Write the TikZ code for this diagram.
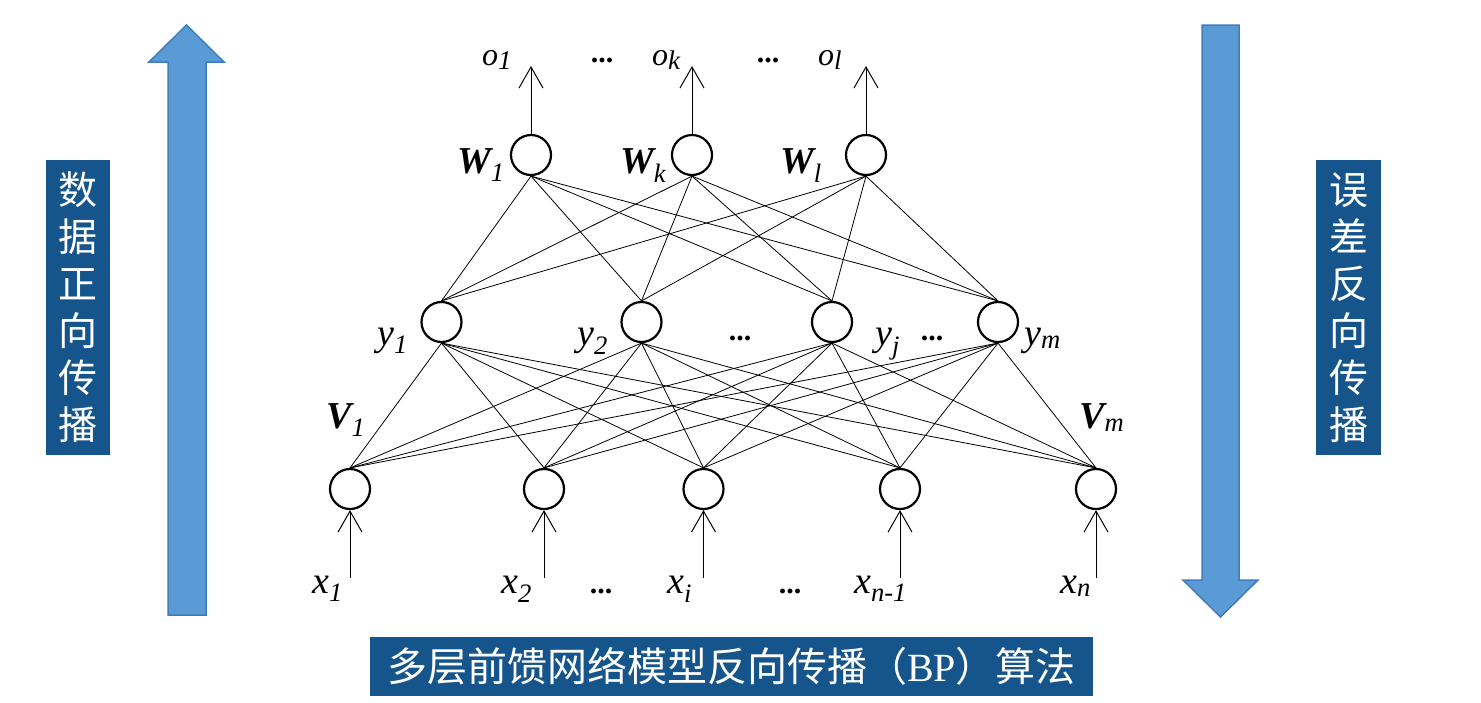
\documentclass[tikz,border=0pt]{standalone}
\usepackage{fontspec}
\setmainfont{Liberation Serif}
\newfontfamily\cjk{Noto Sans CJK SC}
\usetikzlibrary{arrows.meta}
\definecolor{bpblue}{HTML}{15558C}
\definecolor{bpfill}{HTML}{5B9BD5}
\definecolor{bpedge}{HTML}{3F7DBF}
\newcommand{\bpsub}[1]{\textsubscript{\mdseries #1}}
\newcommand{\bposub}[1]{\raisebox{-4pt}{\fontsize{27}{28}\selectfont #1}}
\tikzset{
  >={Straight Barb[length=21pt,width=24pt]},
  bpunit/.style={circle, draw=black, line width=2.2pt, minimum size=40pt, inner sep=0pt},
  bpwire/.style={black, line width=0.8pt},
  bpio/.style={->, black, line width=1pt},
  bpvar/.style={anchor=base west, inner sep=0pt, font=\fontsize{38}{40}\selectfont\itshape},
  bpwt/.style={anchor=base west, inner sep=0pt, font=\fontsize{38}{40}\selectfont\bfseries\itshape},
  bpout/.style={anchor=base west, inner sep=0pt, font=\fontsize{32}{34}\selectfont\itshape},
  bpdots/.style={anchor=base, inner sep=0pt, font=\fontsize{30}{32}\selectfont\bfseries},
  bpbox/.style={fill=bpblue, text=white, inner sep=0pt, align=center,
                font=\cjk\fontsize{39}{47}\selectfont},
  bparrow/.style={fill=bpfill, draw=bpedge, line width=1.5pt},
}
\begin{document}
\begin{tikzpicture}[x=1pt, y=-1pt]

  \useasboundingbox (0,0) rectangle (1481,702);
  \fill[white] (0,0) rectangle (1481,702);

  % big arrows
  \draw[bparrow] (168,615) -- (168,62) -- (149,62) -- (186.5,25) -- (224,62)
                 -- (206,62) -- (206,615) -- cycle;
  \draw[bparrow] (1202,25) -- (1202,580) -- (1183,580) -- (1220.5,617) -- (1258,580)
                 -- (1239,580) -- (1239,25) -- cycle;

  % side and bottom boxes
  \node[bpbox, minimum width=64pt, minimum height=295pt] (fwd) at (78,307.5)
       {数\\据\\正\\向\\传\\播};
  \node[bpbox, minimum width=65pt, minimum height=295pt] (bwd) at (1348.5,307.5)
       {误\\差\\反\\向\\传\\播};
  \node[bpbox, minimum width=723pt, minimum height=59pt,
        font=\cjk\fontsize{40}{44}\selectfont] (title) at (731.5,666.5)
       {多层前馈网络模型反向传播（{\rmfamily BP}）算法};

  % neurons
  \foreach \n/\px in {1/350, 2/544, 3/703.5, 4/900, 5/1096}
    \node[bpunit] (x\n) at (\px,489) {};
  \foreach \n/\px in {1/441.5, 2/641.5, 3/832, 4/998}
    \node[bpunit] (h\n) at (\px,322) {};
  \foreach \n/\px in {1/531, 2/692, 3/866}
    \node[bpunit] (w\n) at (\px,155) {};

  % wires
  \foreach \i in {1,...,5}
    \foreach \j in {1,...,4}
      \draw[bpwire] (x\i.north) -- (h\j.south);
  \foreach \j in {1,...,4}
    \foreach \k in {1,2,3}
      \draw[bpwire] (h\j.north) -- (w\k.south);

  % inputs and outputs
  \foreach \n/\px in {1/350, 2/544, 3/703.5, 4/900, 5/1096} {
    \coordinate (xin\n) at (\px,578);
    \draw[bpio] (xin\n) -- (x\n.south);
  }
  \foreach \n/\px in {1/531, 2/692, 3/866} {
    \coordinate (oout\n) at (\px,66);
    \draw[bpio] (w\n.north) -- (oout\n);
  }

  % labels
  \node[bpvar] (lx1) at (312,593) {x\textsubscript{1}};
  \node[bpvar] (lx2) at (501,593) {x\textsubscript{2}};
  \node[bpvar] (lxi) at (667,593) {x\textsubscript{i}};
  \node[bpvar] (lxm) at (854,593) {x\textsubscript{n-1}};
  \node[bpvar] (lxn) at (1060,593) {x\textsubscript{n}};
  \node[bpdots] (dx1) at (601,593) {...};
  \node[bpdots] (dx2) at (790,593) {...};

  \node[bpvar] (ly1) at (377,345) {y\textsubscript{1}};
  \node[bpvar] (ly2) at (577,345) {y\textsubscript{2}};
  \node[bpvar] (lyj) at (875,345) {y\textsubscript{j}};
  \node[bpvar] (lym) at (1024,345) {y\textsubscript{m}};
  \node[bpdots] (dy1) at (740,340) {...};
  \node[bpdots] (dy2) at (932,340) {...};

  \node[bpwt] (lv1) at (326,428) {V\bpsub{1}};
  \node[bpwt] (lvm) at (1079,428) {V\bpsub{m}};

  \node[bpwt] (lw1) at (457,173) {W\bpsub{1}};
  \node[bpwt] (lwk) at (620,173) {W\bpsub{k}};
  \node[bpwt] (lwl) at (780,173) {W\bpsub{l}};

  \node[bpout] (lo1) at (482,65) {o\bposub{1}};
  \node[bpout] (lok) at (652,65) {o\bposub{k}};
  \node[bpout] (lol) at (818,65) {o\bposub{l}};
  \node[bpdots] (do1) at (602,62) {...};
  \node[bpdots] (do2) at (768,62) {...};

\end{tikzpicture}
\end{document}
